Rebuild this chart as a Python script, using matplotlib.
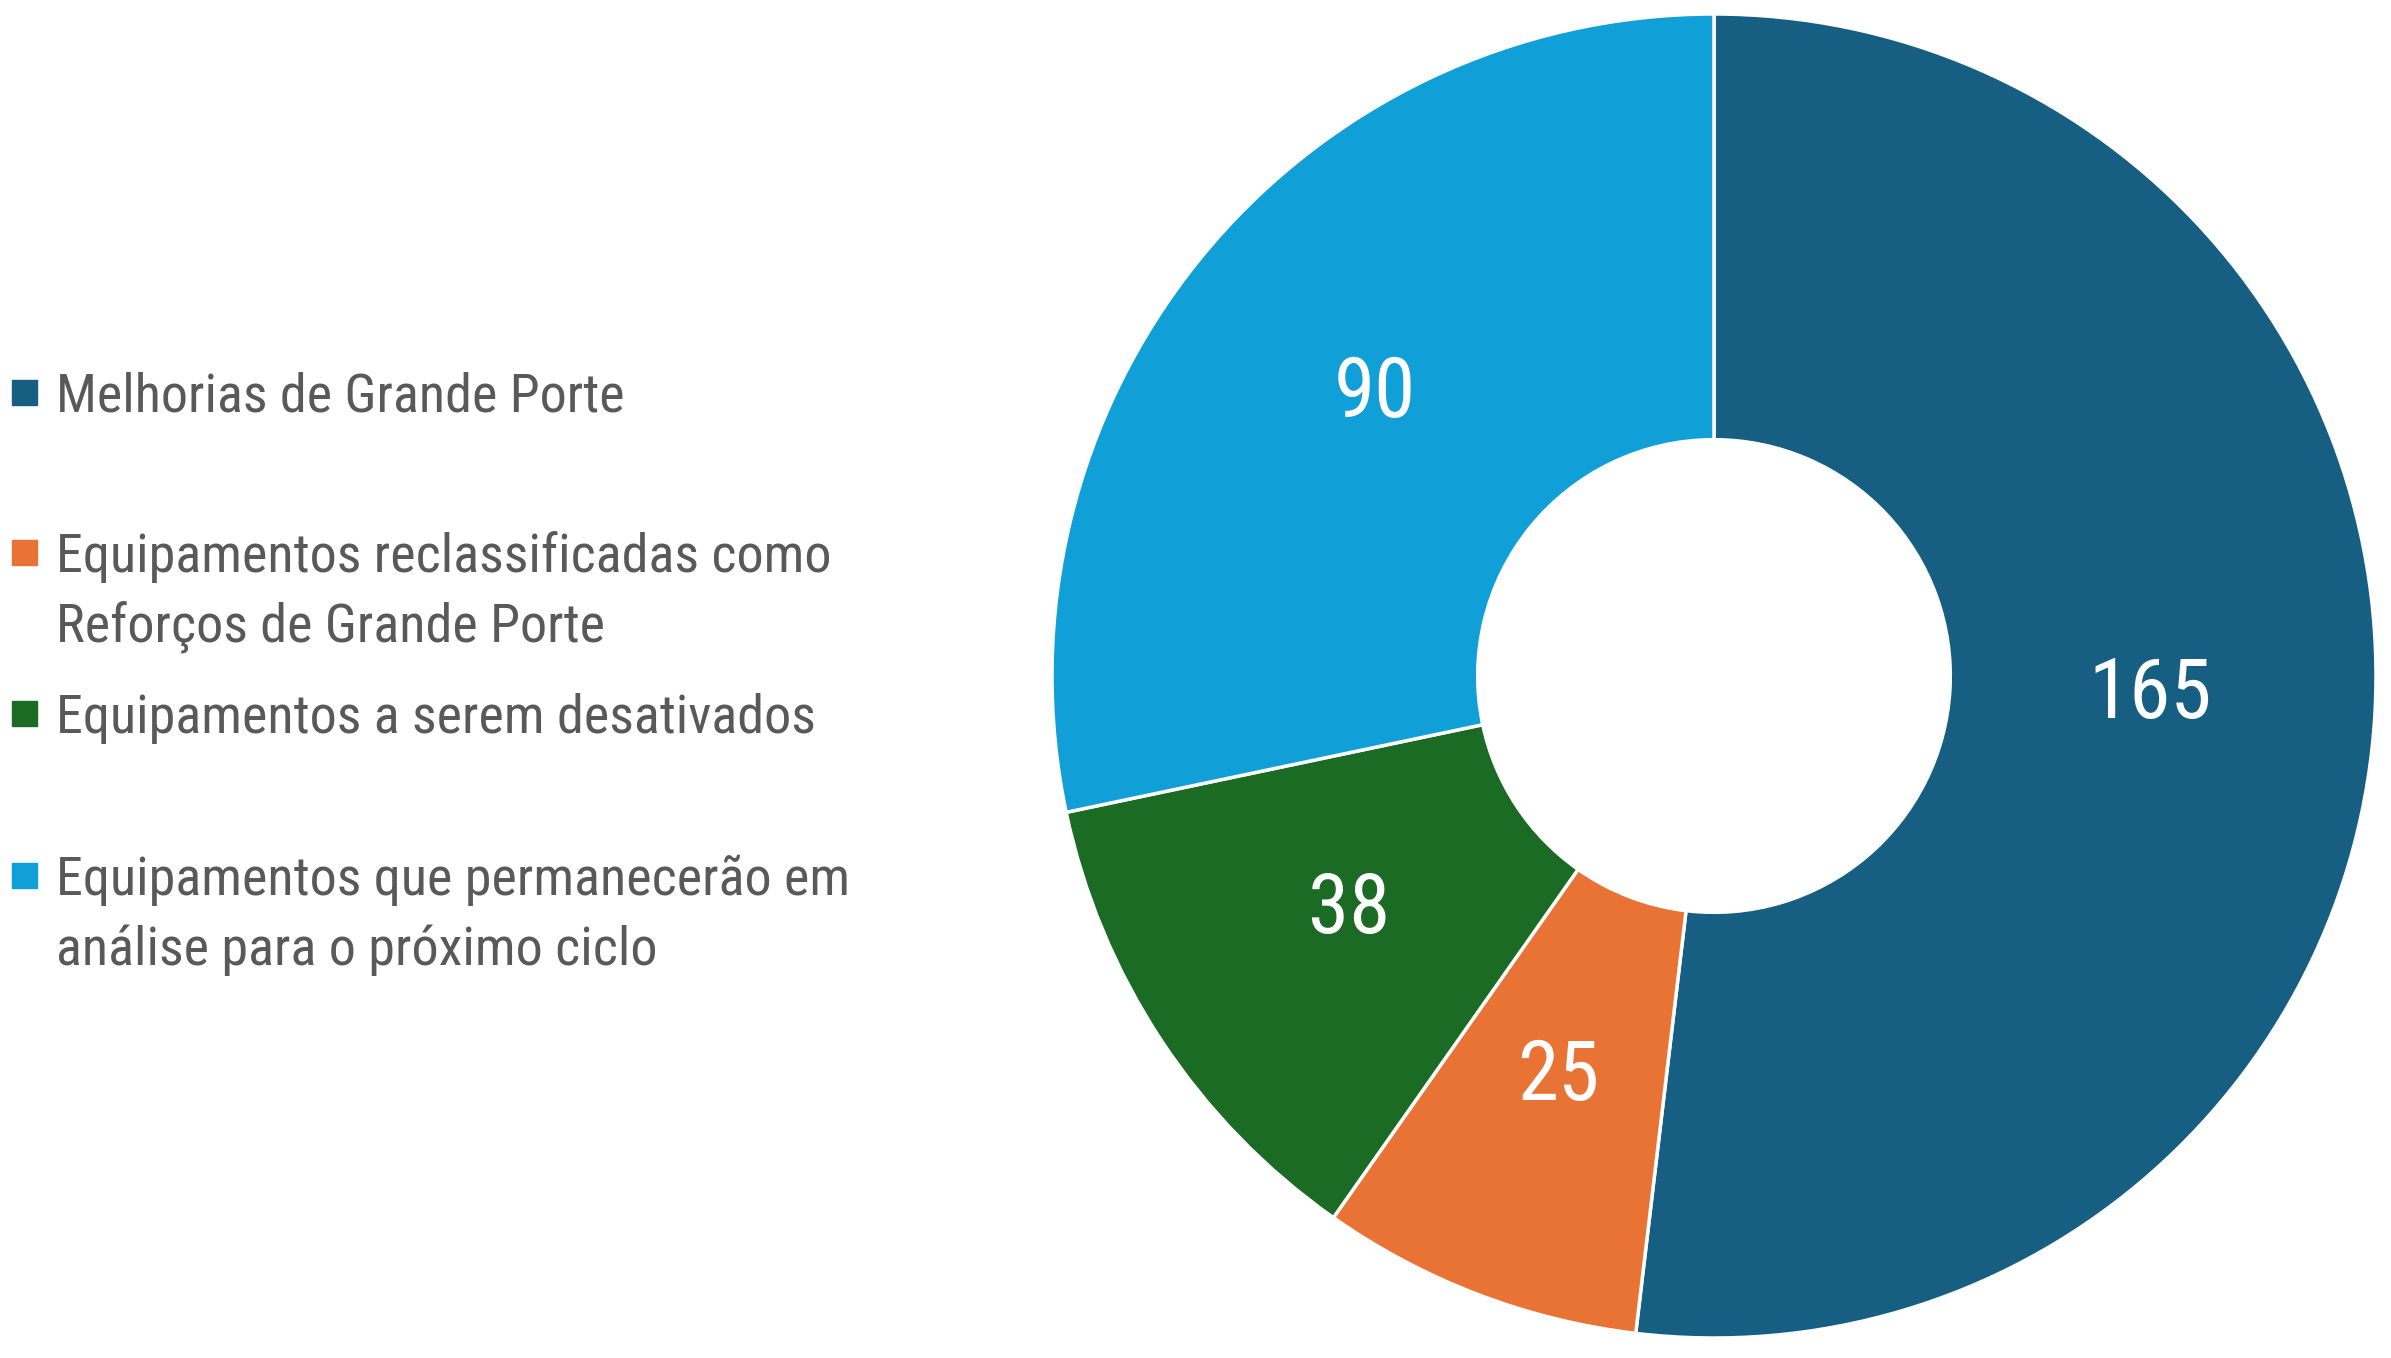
import numpy as np
import matplotlib.pyplot as plt
from matplotlib.patches import Rectangle

categories = ['Melhorias de Grande Porte',
              'Equipamentos reclassificadas como\nReforços de Grande Porte',
              'Equipamentos a serem desativados',
              'Equipamentos que permanecerão em\nanálise para o próximo ciclo']
values = [165, 25, 38, 90]
colors = ['#165E82', '#E97334', '#1B6B24', '#119FD7']

font = ['Roboto Condensed', 'Liberation Sans Narrow', 'DejaVu Sans']
text_color = '#595959'

W, H = 2391, 1358
fig = plt.figure(figsize=(W / 100, H / 100), dpi=100)

# donut
cx, cy, r = 1714, 676, 662
ax = fig.add_axes([(cx - r) / W, (H - cy - r) / H, 2 * r / W, 2 * r / H])
wedges, _ = ax.pie(values, colors=colors, startangle=90, counterclock=False,
                   radius=1.0, wedgeprops=dict(width=0.643, edgecolor='white', linewidth=2.5))
ax.set_xlim(-1, 1)
ax.set_ylim(-1, 1)
ax.set_aspect('equal')

total = sum(values)
ang = 90.0
for v in values:
    mid = np.deg2rad(ang - 360 * v / total / 2)
    ax.text(0.66 * np.cos(mid), 0.66 * np.sin(mid) + 0.01, str(v), ha='center', va='center',
            color='white', fontsize=60, family=font)
    ang -= 360 * v / total

# legend in pixel coords
lax = fig.add_axes([0, 0, 1, 1])
lax.set_xlim(0, W)
lax.set_ylim(H, 0)
lax.axis('off')
baselines = [412, 572, 733, 895]
line_gap = 70
for lab, col, b in zip(categories, colors, baselines):
    lax.add_patch(Rectangle((12, b - 32), 25, 25, color=col))
    for i, line in enumerate(lab.split('\n')):
        lax.text(56, b + i * line_gap, line, ha='left', va='baseline',
                 fontsize=39, color=text_color, family=font)

fig.savefig('out.png', dpi=100, facecolor='white')
